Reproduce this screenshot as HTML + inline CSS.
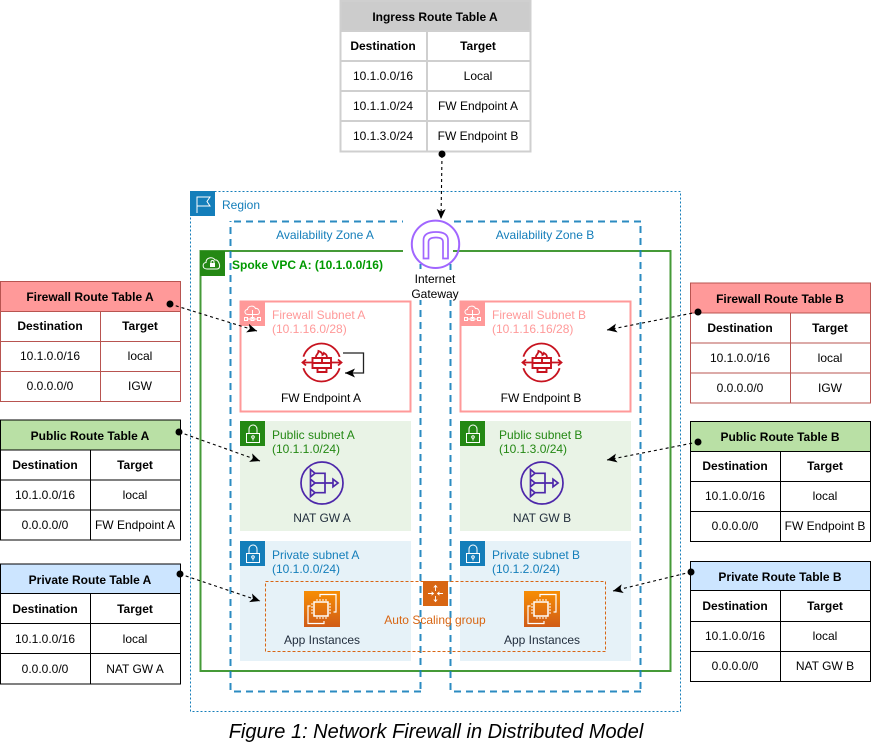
<!DOCTYPE html>
<html><head><meta charset="utf-8"><style>
html,body{margin:0;padding:0;background:#fff}
svg{display:block}
text{font-family:"Liberation Sans",Arial,sans-serif;font-size:12px;fill:#000}
.m{text-anchor:middle}
.b{font-weight:bold}
.az{fill:#147EBA}
.fw{fill:#FF9999}
.pu{fill:#248814}
.pr{fill:#147EBA}
.d{fill:#232F3E}
.t{fill:none;stroke-width:1}
.c{stroke:#000;stroke-width:1.1;stroke-dasharray:3 3;fill:none;marker-end:url(#a)}
.w{fill:none;stroke:#fff;stroke-width:1}
.zd{fill:none;stroke:#147EBA;stroke-width:2;stroke-dasharray:7 5;stroke-opacity:.9}
</style></head><body>
<svg width="871" height="743" viewBox="0 0 871 743" xmlns="http://www.w3.org/2000/svg">
<defs>
<marker id="a" markerUnits="userSpaceOnUse" markerWidth="11" markerHeight="10" refX="10" refY="4.5" orient="auto"><path d="M0,0 L10,4.5 L0,9 L2.5,4.5 Z" fill="#000"/></marker>
<linearGradient id="ec" x1="0" y1="0" x2="0" y2="1"><stop offset="0" stop-color="#F78E04"/><stop offset="1" stop-color="#D05C17"/></linearGradient>
<g id="lock"><rect x="6.5" y="12.5" width="13" height="9" class="w"/><path d="M9 12.5V8a4 4 0 0 1 8 0v4.500" class="w"/><circle cx="13" cy="16" r="1.3" class="w"/><path d="M13 17.300v2.200" class="w"/></g>
<g id="fwi"><circle cx="0" cy="0" r="19" fill="none" stroke="#C7131F" stroke-width="1.8" stroke-dasharray="48 11.7" stroke-dashoffset="-5.8"/>
<path d="M-19 0H-9M-15.500 -3L-19 0L-15.500 3M9.500 0H20M16.500 -3L20 0L16.500 3" fill="none" stroke="#C7131F" stroke-width="1.8"/>
<path d="M-9 -4.500V5.500H9.500V-4.500ZM-9 .5H9.500M.5 -4.500V.5M-4 5.500V9.500H5V5.500" fill="#fff" stroke="#C7131F" stroke-width="1.9"/>
<path d="M-5 -4.500C-7 -7 -3 -8 -3 -11.500C0 -10.500 1 -9 1 -7.500C2 -8 2.500 -9 2.500 -9.500C4.500 -8.500 6 -6.500 5 -4.500" fill="none" stroke="#C7131F" stroke-width="1.8"/></g>
<g id="nat" fill="none" stroke="#4D27AA" stroke-width="1.7"><circle cx="0" cy="0" r="21"/>
<path d="M-7 -9.7H3V9.7H-7M-7 0H11"/><path d="M-11.500 -13.500L-7 -9.700L-11.500 -5.900ZM-11.500 -3.800L-7 0L-11.500 3.800ZM-11.500 5.900L-7 9.700L-11.500 13.500ZM11 -3.800L16 0L11 3.800Z"/></g>
<g id="ec2"><rect width="36" height="36" fill="url(#ec)"/><rect x="10" y="11" width="14" height="14" fill="none" stroke="#fff" stroke-width="1.5"/><path d="M9 13H7M9 16H7M9 19H7M9 22H7M27 13H25M27 16H25M27 19H25M27 22H25M13 10V8M16 10V8M19 10V8M22 10V8M13 28V26M16 28V26M19 28V26M22 28V26" stroke="#fff" fill="none"/><path d="M16 6V3.5H32V21H29.5M20 30V32.5H4V15H6.5" fill="none" stroke="#fff" stroke-width="1.2"/></g>
<g id="fwc"><rect width="25" height="25" fill="#FF9999"/><path d="M8 13.5C4 13.5 4 8.5 7.5 8.5C8 4.5 14 4 15.5 7.5C19 6.5 21.5 13.5 17 13.5Z" class="w"/><path d="M12.500 9V18M6.500 18H18.500" class="w"/><rect x="4.500" y="16.500" width="3" height="3" class="w"/><rect x="17.500" y="16.500" width="3" height="3" class="w"/><rect x="11" y="16.500" width="3" height="3" class="w"/></g>
</defs>

<!-- region -->
<rect x="190.500" y="191.500" width="490" height="520" fill="none" stroke="#147EBA" stroke-dasharray="2 2"/>
<rect x="190" y="191" width="25" height="25" fill="#147EBA"/>
<path d="M197 213V197H210L207 201.500L210 206H197" class="w"/>
<text x="222" y="209" class="az">Region</text>

<!-- VPC -->
<rect x="200.500" y="251" width="470" height="420" fill="none" stroke="#248814" stroke-width="2" stroke-opacity=".85"/>
<rect x="200" y="251" width="25" height="25" fill="#248814"/>
<path d="M207 269C202 269 202 263 206 262.500C206 257 213 256.500 215 260C219 259 222 269 217 269Z" class="w"/><rect x="210" y="263" width="5" height="4" fill="#fff"/><path d="M211 263v-1a1.500 1.500 0 0 1 3 0v1" class="w"/>

<!-- AZ -->
<path class="zd" d="M234 221.500H421M234 691.500H421M230.500 690V221M420.500 226V692"/>
<path class="zd" d="M454 221.500H641M454 691.500H641M450.500 690V221M640.500 226V692"/>
<text x="325" y="239" class="m az">Availability Zone A</text>
<text x="545" y="239" class="m az">Availability Zone B</text>
<text x="232" y="269" class="b" style="fill:#009900">Spoke VPC A: (10.1.0.0/16)</text>

<!-- IGW -->
<rect x="403" y="218" width="50" height="46" fill="#fff"/>
<rect x="411" y="271" width="48" height="29" fill="#fff"/>
<circle cx="435.500" cy="244.300" r="23.700" fill="none" stroke="#A166FF" stroke-width="2"/>
<path d="M423.500 258.500V240Q423.500 232 436 232Q448 232 448 240V258.500H443V242Q443 237.500 436 237.500Q428.500 237.500 428.500 242V258.500Z" fill="none" stroke="#A166FF" stroke-width="1.700"/>
<text x="435" y="283" class="m">Internet</text>
<text x="435" y="298" class="m">Gateway</text>

<!-- Firewall subnets -->
<rect x="240.500" y="301.500" width="170" height="110" fill="#fff" stroke="#FF9999" stroke-width="2"/>
<use href="#fwc" x="240" y="301"/>
<text x="272" y="319" class="fw">Firewall Subnet A</text>
<text x="272" y="333" class="fw">(10.1.16.0/28)</text>
<use href="#fwi" x="321.500" y="362.500"/>
<text x="321" y="402" class="m">FW Endpoint A</text>
<path d="M343 353H363.500V373H345" fill="none" stroke="#222" stroke-width="1.300" marker-end="url(#a)"/>

<rect x="460.500" y="301.500" width="170" height="110" fill="#fff" stroke="#FF9999" stroke-width="2"/>
<use href="#fwc" x="460" y="301"/>
<text x="492" y="319" class="fw">Firewall Subnet B</text>
<text x="492" y="333" class="fw">(10.1.16.16/28)</text>
<use href="#fwi" x="541.500" y="362.500"/>
<text x="541" y="402" class="m">FW Endpoint B</text>

<!-- Public -->
<rect x="240" y="421" width="171" height="110" fill="#E9F3E6"/>
<rect x="240" y="421" width="25" height="25" fill="#248814"/><use href="#lock" x="240" y="421"/>
<text x="272" y="439" class="pu">Public subnet A</text>
<text x="272" y="453" class="pu">(10.1.1.0/24)</text>
<use href="#nat" x="322" y="483"/>
<text x="322" y="522" class="m d">NAT GW A</text>

<rect x="460" y="421" width="171" height="110" fill="#E9F3E6"/>
<rect x="460" y="421" width="25" height="25" fill="#248814"/><use href="#lock" x="460" y="421"/>
<text x="499" y="439" class="pu">Public subnet B</text>
<text x="499" y="453" class="pu">(10.1.3.0/24)</text>
<use href="#nat" x="542" y="483"/>
<text x="542" y="522" class="m d">NAT GW B</text>

<!-- Private -->
<rect x="240" y="541" width="171" height="120" fill="#E6F2F8"/>
<rect x="240" y="541" width="25" height="25" fill="#147EBA"/><use href="#lock" x="240" y="541"/>
<text x="272" y="559" class="pr">Private subnet A</text>
<text x="272" y="573" class="pr">(10.1.0.0/24)</text>
<use href="#ec2" x="304" y="591"/>
<text x="322" y="644" class="m d">App Instances</text>

<rect x="460" y="541" width="171" height="120" fill="#E6F2F8"/>
<rect x="460" y="541" width="25" height="25" fill="#147EBA"/><use href="#lock" x="460" y="541"/>
<text x="492" y="559" class="pr">Private subnet B</text>
<text x="492" y="573" class="pr">(10.1.2.0/24)</text>
<use href="#ec2" x="524" y="591"/>
<text x="542" y="644" class="m d">App Instances</text>

<!-- ASG -->
<rect x="265.500" y="581.500" width="340" height="70" fill="none" stroke="#D86613" stroke-dasharray="3 2"/>
<rect x="423" y="581" width="25" height="25" fill="#D86613"/>
<path d="M435.500 586V591M433.800 587.500L435.500 585.500L437.200 587.500M435.500 596V601M433.800 599.500L435.500 601.500L437.200 599.500M428 593.500H433M431.500 591.800L433.500 593.500L431.500 595.200M438 593.500H443M439.500 591.800L437.500 593.500L439.500 595.200" fill="none" stroke="#fff" stroke-width=".9"/>
<text x="435" y="624" class="m" style="fill:#D86613">Auto Scaling group</text>

<!-- Ingress table -->
<rect x="340" y="1" width="190" height="30" fill="#CCCCCC"/>
<path d="M340.500 1V151.500H530.500V1ZM340 31H531M340 61H531M340 91H531M340 121H531M427 31V151" fill="none" stroke="#CFCFCF" stroke-width="2"/>
<text x="435" y="21" class="m b">Ingress Route Table A</text>
<text x="383" y="50" class="m b">Destination</text><text x="478" y="50" class="m b">Target</text>
<text x="383" y="80" class="m">10.1.0.0/16</text><text x="478" y="80" class="m">Local</text>
<text x="383" y="110" class="m">10.1.1.0/24</text><text x="478" y="110" class="m">FW Endpoint A</text>
<text x="383" y="140" class="m">10.1.3.0/24</text><text x="478" y="140" class="m">FW Endpoint B</text>

<!-- Firewall A -->
<rect x="0" y="282" width="180" height="29.500" fill="#FF9999"/>
<path d="M.5 281.500H180.500V401.500H.5ZM0 311.500H181M0 341.500H181M0 371.500H181M100.500 311.500V401.500" class="t" stroke="#B85450"/>
<text x="90" y="301" class="m b">Firewall Route Table A</text>
<text x="50" y="330" class="m b">Destination</text><text x="140" y="330" class="m b">Target</text>
<text x="50" y="360" class="m">10.1.0.0/16</text><text x="140" y="360" class="m">local</text>
<text x="50" y="390" class="m">0.0.0.0/0</text><text x="140" y="390" class="m">IGW</text>

<!-- Public A -->
<rect x="0" y="420" width="180" height="30" fill="#B9E0A5"/>
<path d="M.5 420H180.500V540H.5ZM0 450H181M0 480H181M0 510H181M90.500 450V540" class="t" stroke="#000"/>
<text x="90" y="440" class="m b">Public Route Table A</text>
<text x="45" y="469" class="m b">Destination</text><text x="135" y="469" class="m b">Target</text>
<text x="45" y="499" class="m">10.1.0.0/16</text><text x="135" y="499" class="m">local</text>
<text x="45" y="529" class="m">0.0.0.0/0</text><text x="135" y="529" class="m">FW Endpoint A</text>

<!-- Private A -->
<rect x="0" y="564" width="180" height="30" fill="#CCE5FF"/>
<path d="M.5 564H180.500V684H.5ZM0 593.500H181M0 623.500H181M0 653.500H181M90.500 593.500V684" class="t" stroke="#000"/>
<text x="90" y="584" class="m b">Private Route Table A</text>
<text x="45" y="613" class="m b">Destination</text><text x="135" y="613" class="m b">Target</text>
<text x="45" y="643" class="m">10.1.0.0/16</text><text x="135" y="643" class="m">local</text>
<text x="45" y="673" class="m">0.0.0.0/0</text><text x="135" y="673" class="m">NAT GW A</text>

<!-- Firewall B -->
<rect x="691" y="283" width="180" height="30" fill="#FF9999"/>
<path d="M690.500 283H870.500V403H690.500ZM690 313H871M690 343H871M690 373H871M790.500 313V403" class="t" stroke="#B85450"/>
<text x="780" y="303" class="m b">Firewall Route Table B</text>
<text x="740" y="332" class="m b">Destination</text><text x="830" y="332" class="m b">Target</text>
<text x="740" y="362" class="m">10.1.0.0/16</text><text x="830" y="362" class="m">local</text>
<text x="740" y="392" class="m">0.0.0.0/0</text><text x="830" y="392" class="m">IGW</text>

<!-- Public B -->
<rect x="691" y="421.500" width="180" height="30" fill="#B9E0A5"/>
<path d="M690.500 421.500H870.500V541.500H690.500ZM690 451.500H871M690 481.500H871M690 511.500H871M780.500 451.500V541.500" class="t" stroke="#000"/>
<text x="780" y="441" class="m b">Public Route Table B</text>
<text x="735" y="470" class="m b">Destination</text><text x="825" y="470" class="m b">Target</text>
<text x="735" y="500" class="m">10.1.0.0/16</text><text x="825" y="500" class="m">local</text>
<text x="735" y="530" class="m">0.0.0.0/0</text><text x="825" y="530" class="m">FW Endpoint B</text>

<!-- Private B -->
<rect x="691" y="561.500" width="180" height="29" fill="#CCE5FF"/>
<path d="M690.500 561.500H870.500V681.500H690.500ZM690 590.500H871M690 621.500H871M690 651.500H871M780.500 590.500V681.500" class="t" stroke="#000"/>
<text x="780" y="581" class="m b">Private Route Table B</text>
<text x="735" y="610" class="m b">Destination</text><text x="825" y="610" class="m b">Target</text>
<text x="735" y="640" class="m">10.1.0.0/16</text><text x="825" y="640" class="m">local</text>
<text x="735" y="670" class="m">0.0.0.0/0</text><text x="825" y="670" class="m">NAT GW B</text>

<!-- connectors -->
<path class="c" d="M442 155L441 219"/><circle cx="442" cy="154" r="3.500"/>
<path class="c" d="M170 304L257 331"/><circle cx="170" cy="304" r="3.500"/>
<path class="c" d="M698 312L607 330"/><circle cx="698" cy="312" r="3.500"/>
<path class="c" d="M179 432L260 461"/><circle cx="179" cy="432" r="3.500"/>
<path class="c" d="M698 442L607 460"/><circle cx="698" cy="442" r="3.500"/>
<path class="c" d="M180 574L260 601"/><circle cx="180" cy="574" r="3.500"/>
<path class="c" d="M691 572L613 591"/><circle cx="691" cy="572" r="3.500"/>

<text x="436" y="738" class="m" style="font-size:20px;font-style:italic">Figure 1: Network Firewall in Distributed Model</text>
</svg>
</body></html>
